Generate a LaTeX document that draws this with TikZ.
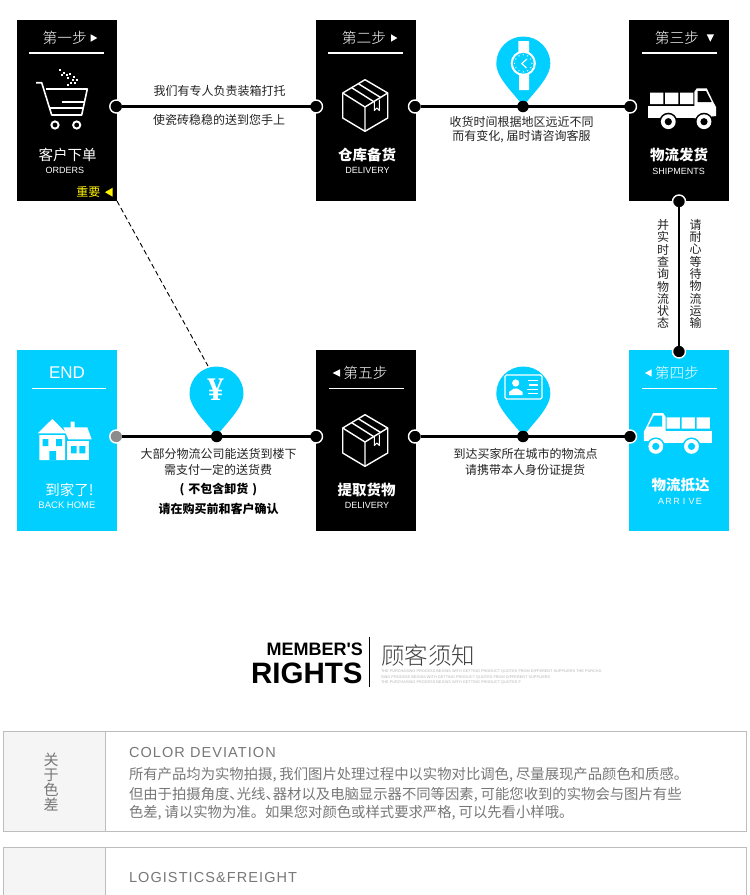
\documentclass[tikz,border=0pt]{standalone}
\usepackage{fontspec}
\usepackage{xcolor}
\usepackage{tikz}
\setmainfont{Noto Sans CJK SC}
\newfontfamily\latinfont{Liberation Sans}
\newfontfamily\spacedfont[LetterSpace=7.5]{Liberation Sans}
\newfontfamily\yenfont{Liberation Serif}
\newfontfamily\lightfont{Noto Sans CJK SC Light}
\definecolor{stepcyan}{HTML}{00CFFF}
\definecolor{stepink}{HTML}{222222}
\definecolor{boxedge}{HTML}{BDBDBD}
\definecolor{boxside}{HTML}{F5F5F5}
\definecolor{noteink}{HTML}{777777}
\newcommand{\fsz}[1]{\fontsize{#1}{#1}\selectfont}
\newcommand{\cmm}{,\hspace{3pt}}
\newcommand{\dun}{、\hspace{-7pt}}
\tikzset{
  panelbox/.style={minimum width=100pt,minimum height=181pt,inner sep=0pt,outer sep=0pt},
  txt/.style={inner sep=0pt,outer sep=0pt,align=center},
  bodytxt/.style={txt,text=stepink,font=\fsz{12}},
  boldtxt/.style={txt,text=black,font=\bfseries\fsz{12}},
  headtxt/.style={txt,text=white,font=\lightfont\fsz{14.7}},
  titletxt/.style={txt,text=white,font=\fsz{14.5}},
  subtxt/.style={txt,text=white,font=\latinfont\fsz{9}},
  notetxt/.style={txt,anchor=west,text=noteink,font=\fsz{14.35}},
  enghead/.style={txt,anchor=west,text=noteink,font=\spacedfont\fsz{14.5}},
  tinytxt/.style={txt,anchor=west,text=black!30,font=\latinfont\fsz{3.85}},
  linedot/.style={circle,fill=black,draw=white,line width=1.4pt,minimum size=13pt,inner sep=0pt,outer sep=-1pt},
  linkline/.style={black,line width=2.2pt},
  pics/pinmark/.style={code={
    \fill[stepcyan] (0,0) .. controls (-8,-12) and (-27,-28) .. (-27,-43)
      arc[start angle=180,end angle=360,radius=27] .. controls (27,-28) and (8,-12) .. (0,0) -- cycle;
  }},
  pics/boxicon/.style={code={
    \draw[white,line width=1.4pt,line join=round] (0,-27.3) -- (22.7,-14) -- (22.7,11) -- (0,24.3) -- (-22.3,11) -- (-22.3,-14) -- cycle;
    \draw[white,line width=1.4pt,line join=round] (-22.3,-14) -- (0,0) -- (22.7,-14) (0,0) -- (0,24.3);
    \draw[white,line width=1.4pt,line join=round] (-13.3,-19.3) -- (9.3,-5) (-6.7,-23.3) -- (16,-9.3);
    \draw[white,line width=1.1pt,line join=round] (9.3,-5) -- (9.3,3.5) -- (11.8,1) -- (14.3,3.5) -- (14.3,-7.5);
  }},
  pics/truckicon/.style={code={
    \fill[white] (-32,-13.3) rectangle (-18.7,-2) (-17,-13.3) rectangle (-3.7,-2) (-2,-13.3) rectangle (11.3,-2);
    \fill[white] (-33.7,0) rectangle (14.7,12.3);
    \fill[white] (12.3,12.3) -- (12.3,-14) -- (14.7,-17.7) -- (24.7,-17.7) -- (31.3,-4) -- (34,1) -- (34,10) -- (14.7,12.3) -- cycle;
    \fill[#1] (15.7,-15) -- (24,-15) -- (29.7,-4) -- (15.7,-4) -- cycle;
    \foreach \wx in {-13.7,22} {
      \fill[#1] (\wx,15.7) circle[radius=9];
      \fill[white] (\wx,15.7) circle[radius=7.4];
      \fill[#1] (\wx,15.7) circle[radius=3.6];
    }
  }}
}
\begin{document}
\begin{tikzpicture}[x=1pt,y=-1pt]
  \useasboundingbox (0,0) rectangle (750,895);
  % step panels
  \node[panelbox,fill=black] (orders) at (67,110.5) {};
  \node[panelbox,fill=black] (storage) at (366,110.5) {};
  \node[panelbox,fill=black] (shipping) at (679,110.5) {};
  \node[panelbox,fill=stepcyan] (arrive) at (679,440.5) {};
  \node[panelbox,fill=black] (pickup) at (366,440.5) {};
  \node[panelbox,fill=stepcyan] (home) at (67,440.5) {};
  % panel heads
  \node[headtxt] (head1) at (64.7,38) {第一步};
  \node[headtxt] (head2) at (364,38) {第二步};
  \node[headtxt] (head3) at (677,38) {第三步};
  \node[headtxt] (head4) at (677,373) {第四步};
  \node[headtxt] (head5) at (365.5,373) {第五步};
  \node[txt,text=white,font=\latinfont\fsz{17}] (headend) at (67,372.5) {END};
  \fill[white] (90.7,34.3) -- (97.3,38) -- (90.7,41.7) -- cycle;
  \fill[white] (391,34.3) -- (397.3,38) -- (391,41.7) -- cycle;
  \fill[white] (706.7,34.3) -- (714,34.3) -- (710.3,41.7) -- cycle;
  \fill[white] (651.7,369.3) -- (645,373) -- (651.7,376.7) -- cycle;
  \fill[white] (340,369.3) -- (332.7,373) -- (340,376.7) -- cycle;
  \draw[white,line width=1.2pt] (29.3,53) -- (104,53);
  \draw[white,line width=1.2pt] (328.3,53) -- (403.3,53);
  \draw[white,line width=1.2pt] (641.7,53) -- (716.7,53);
  \draw[white,line width=1.2pt] (641.7,388.3) -- (716.7,388.3);
  \draw[white,line width=1.2pt] (329.3,388.3) -- (404.3,388.3);
  \draw[white,line width=1.2pt] (31.7,388.3) -- (106,388.3);
  % panel titles
  \node[titletxt] (title1) at (67.7,155) {客户下单};
  \node[subtxt] (sub1) at (65,170) {ORDERS};
  \node[titletxt,font=\bfseries\fsz{14.5}] (title2) at (367,155) {仓库备货};
  \node[subtxt] (sub2) at (367.5,170) {DELIVERY};
  \node[titletxt,font=\bfseries\fsz{14.5}] (title3) at (679,155) {物流发货};
  \node[subtxt] (sub3) at (678.5,171) {SHIPMENTS};
  \node[titletxt,font=\bfseries\fsz{14.5}] (title4) at (680.7,485) {物流抵达};
  \node[subtxt,font=\latinfont\fsz{9}] (sub4) at (680,501.5) {A\,R\,R\,\,I\,\,V\,E};
  \node[titletxt,font=\bfseries\fsz{14.5}] (title5) at (366.7,489.5) {提取货物};
  \node[subtxt] (sub5) at (367,505) {DELIVERY};
  \node[titletxt] (titleend) at (69.5,490) {到家了!};
  \node[subtxt,font=\latinfont\fsz{9.5}] (subend) at (67,505) {BACK HOME};
  \node[txt,text=yellow,font=\fsz{12}] (important) at (88.3,191.7) {重要};
  \fill[yellow] (112.7,187.7) -- (105,192.2) -- (112.7,196.7) -- cycle;
  % cart
  \draw[white,line width=1.6pt,line join=round] (36,82.7) -- (41.7,82.7) -- (51.7,115) -- (81.7,115) -- (87.3,89) -- (46,89);
  \draw[white,line width=1.6pt] (61.7,101.7) -- (85,101.7);
  \draw[white,line width=1.6pt] (48.7,108) -- (83,108);
  \draw[white,line width=1.9pt] (55,125) circle[radius=3.6] (76.7,125) circle[radius=3.6];
  \foreach \dx/\dy in {60/70,62.3/75,66.7/75,70/74,68.3/78.3,72.7/80,77.3/80,70.7/83.3,75/83.3,68.3/85,64/72.5,74/77}
    \fill[white] (\dx-1,\dy-1) rectangle (\dx+1,\dy+1);
  % icons
  \pic at (365,107) {boxicon};
  \pic at (365,442) {boxicon};
  \pic at (682,106) {truckicon=black};
  \pic[xscale=-1] at (677.8,430.7) {truckicon=stepcyan};
  % house
  \fill[white] (37.7,433.3) -- (52.3,419) -- (66.7,433.3) -- cycle (39.3,435) rectangle (65,460);
  \fill[stepcyan] (42.7,439) rectangle (48.3,446) (56,439) rectangle (62,446) (49.3,451) rectangle (56,460);
  \fill[white] (63.3,427.3) -- (70.7,427.3) -- (70.7,421.7) -- (74.7,421.7) -- (74.7,427.3) -- (87.3,427.3) -- (91.7,439.3) -- (68.3,439.3) -- cycle;
  \fill[white] (66.7,440.7) rectangle (89.3,460);
  \fill[stepcyan] (71,446) rectangle (76.7,453.3) (79.3,446) rectangle (85.3,453.3);
  % pins
  \pic at (523.3,106.5) {pinmark};
  \pic at (216.5,436.5) {pinmark};
  \pic at (523.3,436.5) {pinmark};
  \coordinate (pinedge) at (208,366);
  % watch
  \fill[white] (518.3,41) rectangle (529,54) (519,72) rectangle (529,90);
  \fill[white] (523.3,63.3) circle[radius=12.6];
  \fill[stepcyan] (523.3,63.3) circle[radius=10.4];
  \foreach \ang in {0,30,...,330}
    \fill[white] (523.3,63.3) ++(\ang:8.6) circle[radius=0.7];
  \draw[white,line width=1.2pt] (527,59) -- (521.8,63.5) -- (526.5,68);
  % yen
  \node[txt,text=white,font=\yenfont\bfseries\fsz{33}] (yen) at (215.5,389.5) {¥};
  % card
  \draw[white,line width=1.2pt,rounded corners=1.5pt] (505,375) rectangle (542,399);
  \fill[white] (515.7,383) circle[radius=3.6];
  \fill[white] (509,395) -- (509,392) -- (514,388.5) -- (517.5,388.5) -- (522.7,392) -- (522.7,395) -- cycle;
  \foreach \ly/\lx in {380.7/527.5,385/528.5,389.3/526.5,393.3/527.5}
    \draw[white,line width=1.1pt] (\lx,\ly) -- (538.3,\ly);
  % dots and links
  \node[linedot] (d1) at (116.3,106.5) {};
  \node[linedot] (d2) at (316,106.5) {};
  \node[linedot] (d3) at (415,106.5) {};
  \node[linedot,minimum size=11.5pt,draw=none] (d4) at (523,106.5) {};
  \node[linedot] (d5) at (630,106.5) {};
  \node[linedot] (d6) at (679,201.5) {};
  \node[linedot] (d7) at (679,351.5) {};
  \node[linedot] (d8) at (630,436.5) {};
  \node[linedot,minimum size=11.5pt,draw=none] (d9) at (523,436.5) {};
  \node[linedot] (d10) at (415,436.5) {};
  \node[linedot] (d11) at (316,436.5) {};
  \node[linedot,minimum size=11.5pt,draw=none] (d12) at (216.7,436.5) {};
  \node[linedot,fill=black!45] (d13) at (116.3,436.5) {};
  \draw[linkline] (d1) -- (d2);
  \draw[linkline] (d3) -- (d4);
  \draw[linkline] (d4) -- (d5);
  \draw[linkline] (d6) -- (d7);
  \draw[linkline] (d8) -- (d9);
  \draw[linkline] (d9) -- (d10);
  \draw[linkline] (d11) -- (d12);
  \draw[linkline] (d12) -- (d13);
  \draw[black,line width=0.9pt,dash pattern=on 5pt off 3pt] (orders.south east) -- (pinedge);
  % link labels
  \node[bodytxt] (note1a) at (219.5,91) {我们有专人负责装箱打托};
  \node[bodytxt] (note1b) at (219,120) {使瓷砖稳稳的送到您手上};
  \node[bodytxt] (note2a) at (521.5,122) {收货时间根据地区远近不同};
  \node[bodytxt] (note2b) at (521.5,137) {而有变化\cmm 届时请咨询客服};
  \node[bodytxt,font=\fsz{12}] (note3a) at (663,274) {并\\[0.3pt]实\\[0.3pt]时\\[0.3pt]查\\[0.3pt]询\\[0.3pt]物\\[0.3pt]流\\[0.3pt]状\\[0.3pt]态};
  \node[bodytxt,font=\fsz{12}] (note3b) at (695.5,274) {请\\[0.3pt]耐\\[0.3pt]心\\[0.3pt]等\\[0.3pt]待\\[0.3pt]物\\[0.3pt]流\\[0.3pt]运\\[0.3pt]输};
  \node[bodytxt] (note4a) at (525.7,454) {到达买家所在城市的物流点};
  \node[bodytxt] (note4b) at (525,469.5) {请携带本人身份证提货};
  \node[bodytxt] (note5a) at (218.5,454.3) {大部分物流公司能送货到楼下};
  \node[bodytxt] (note5b) at (218,469.5) {需支付一定的送货费};
  \node[boldtxt] (note5c) at (218.5,490) {(\hspace{4pt}不包含卸货\hspace{4pt})};
  \node[boldtxt] (note5d) at (218.5,509) {请在购买前和客户确认};
  % rights heading
  \node[txt,anchor=east,font=\latinfont\bfseries\fsz{18}] (member) at (363,649) {MEMBER'S};
  \node[txt,anchor=east,font=\latinfont\bfseries\fsz{29.5}] (rights) at (362.5,673) {RIGHTS};
  \draw[black,line width=0.8pt] (369.5,637) -- (369.5,687);
  \node[txt,anchor=west,text=black!75,font=\lightfont\fsz{23.5}] (notice) at (381,655) {顾客须知};
  \node[tinytxt] (tiny1) at (381,671.5) {THE PURCHASING PROCESS BEGINS WITH GETTING PRODUCT QUOTES FROM DIFFERENT SUPPLIERS THE PURCHA};
  \node[tinytxt] (tiny2) at (381,677.5) {SING PROCESS BEGINS WITH GETTING PRODUCT QUOTES FROM DIFFERENT SUPPLIERS};
  \node[tinytxt] (tiny3) at (381,683) {THE PURCHASING PROCESS BEGINS WITH GETTING PRODUCT QUOTES F};
  % notes
  \fill[boxside] (3.5,731.5) rectangle (105.5,831);
  \draw[boxedge,line width=1pt] (3.5,731.5) rectangle (746,831);
  \draw[boxedge,line width=1pt] (105.5,731.5) -- (105.5,831);
  \node[txt,text=noteink,font=\fsz{15}] (side1) at (51,782) {关\\于\\色\\差};
  \node[enghead] (eng1) at (129,752) {COLOR DEVIATION};
  \node[notetxt] (line1) at (129,775) {所有产品均为实物拍摄\cmm 我们图片处理过程中以实物对比调色\cmm 尽量展现产品颜色和质感。};
  \node[notetxt] (line2) at (129,794.5) {但由于拍摄角度\dun 光线\dun 器材以及电脑显示器不同等因素\cmm 可能您收到的实物会与图片有些};
  \node[notetxt] (line3) at (129,813) {色差\cmm 请以实物为准。如果您对颜色或样式要求严格\cmm 可以先看小样哦。};
  \fill[boxside] (3.5,847.5) rectangle (105.5,896);
  \draw[boxedge,line width=1pt] (3.5,896) -- (3.5,847.5) -- (746,847.5) -- (746,896);
  \draw[boxedge,line width=1pt] (105.5,847.5) -- (105.5,896);
  \node[enghead] (eng2) at (129,877) {LOGISTICS\&FREIGHT};
\end{tikzpicture}
\end{document}
